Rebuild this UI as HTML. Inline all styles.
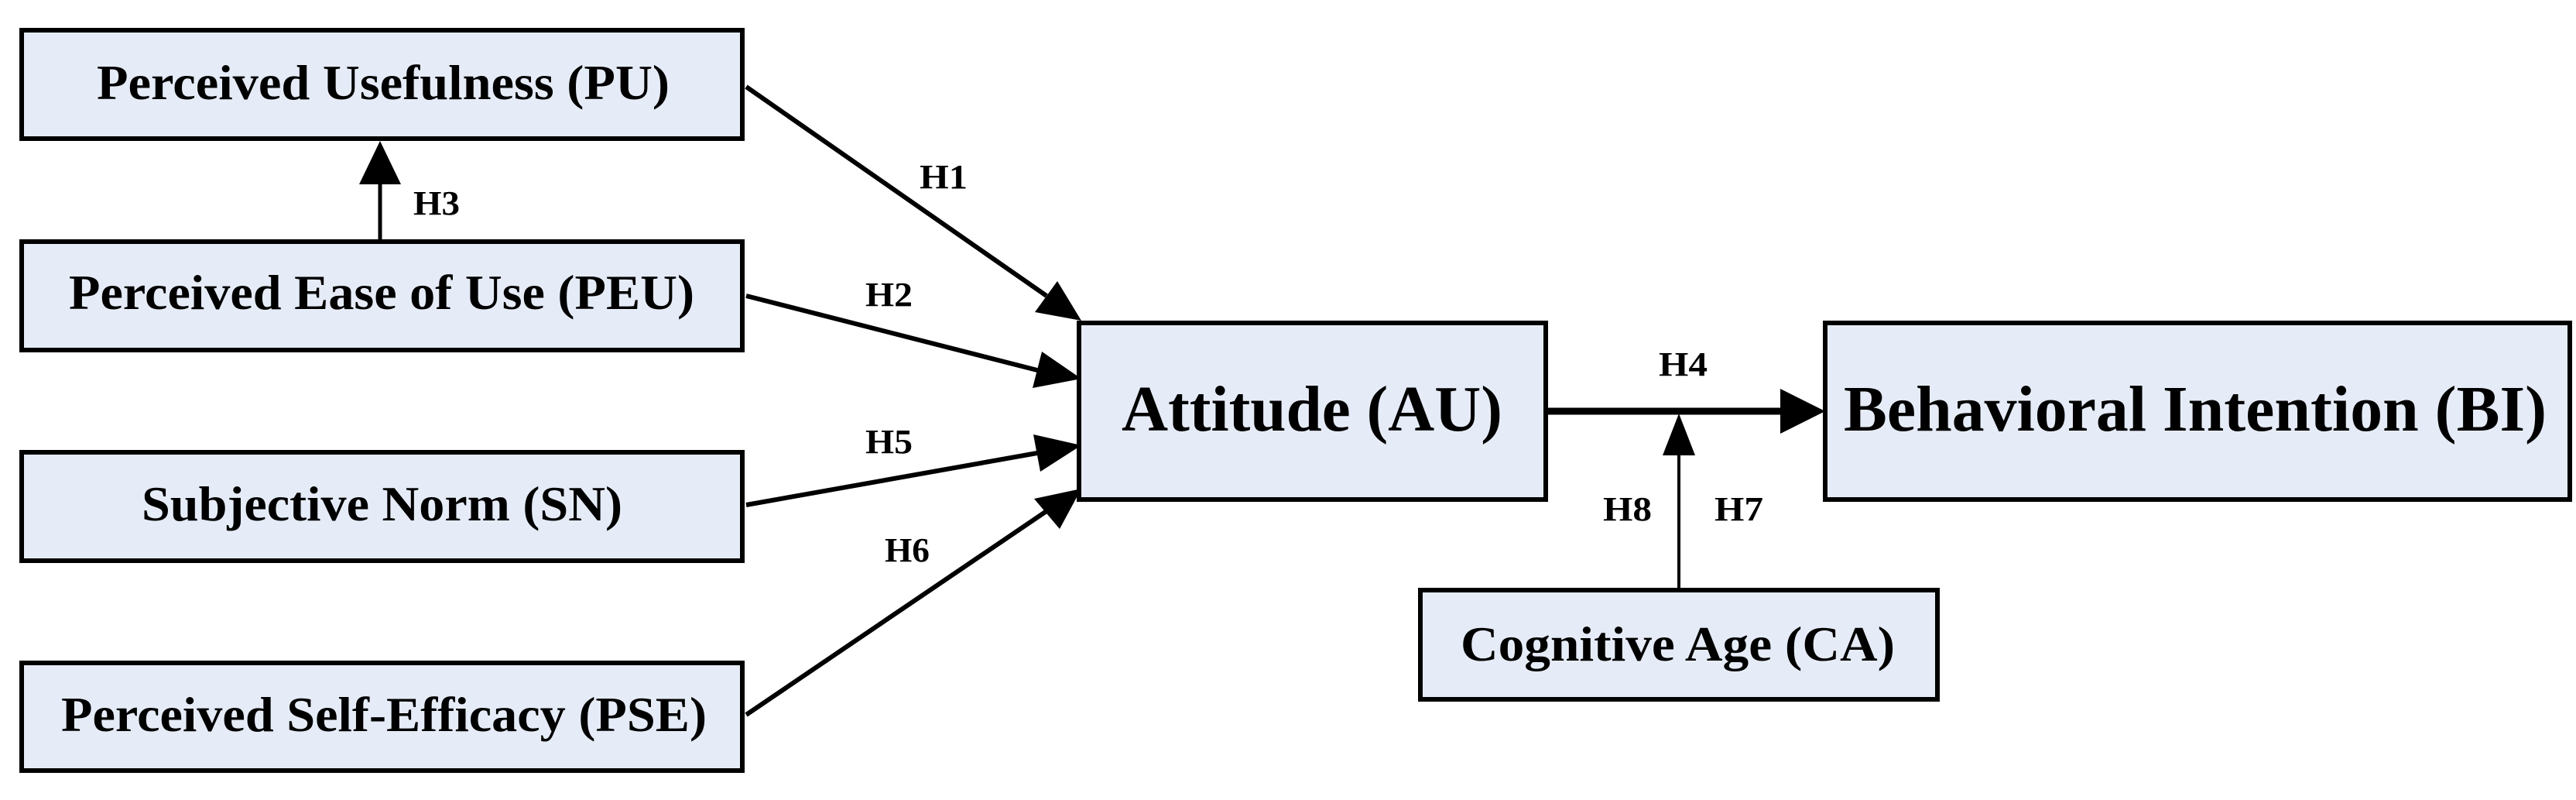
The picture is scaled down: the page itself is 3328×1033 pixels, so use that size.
<!DOCTYPE html>
<html><head><meta charset="utf-8"><style>
html,body{margin:0;padding:0;background:#fff;}
svg{display:block;}
text{font-family:"Liberation Serif",serif;font-weight:bold;fill:#000;}
</style></head><body>
<svg width="3328" height="1033" viewBox="0 0 3328 1033" xmlns="http://www.w3.org/2000/svg">
<g fill="#e6ecf7" stroke="#000" stroke-width="6">
<rect x="28" y="39" width="931" height="140"/>
<rect x="28" y="312" width="931" height="140"/>
<rect x="28" y="584" width="931" height="140"/>
<rect x="28" y="856" width="931" height="139"/>
<rect x="1394" y="417" width="603" height="228"/>
<rect x="2358" y="417" width="962" height="228"/>
<rect x="1835" y="762" width="668" height="141"/>
</g>
<g font-size="64">
<text x="125" y="128" textLength="740" lengthAdjust="spacingAndGlyphs">Perceived Usefulness (PU)</text>
<text x="89" y="399" textLength="808" lengthAdjust="spacingAndGlyphs">Perceived Ease of Use (PEU)</text>
<text x="183" y="672" textLength="621" lengthAdjust="spacingAndGlyphs">Subjective Norm (SN)</text>
<text x="79" y="944" textLength="834" lengthAdjust="spacingAndGlyphs">Perceived Self-Efficacy (PSE)</text>
<text x="1887" y="853" textLength="561" lengthAdjust="spacingAndGlyphs">Cognitive Age (CA)</text>
</g>
<g font-size="84">
<text x="1449" y="556" textLength="492" lengthAdjust="spacingAndGlyphs">Attitude (AU)</text>
<text x="2382" y="556" textLength="908" lengthAdjust="spacingAndGlyphs">Behavioral Intention (BI)</text>
</g>
<g font-size="44">
<text x="1188" y="243" textLength="62" lengthAdjust="spacingAndGlyphs">H1</text>
<text x="534" y="277" textLength="60" lengthAdjust="spacingAndGlyphs">H3</text>
<text x="1118" y="395" textLength="61" lengthAdjust="spacingAndGlyphs">H2</text>
<text x="1118" y="585" textLength="61" lengthAdjust="spacingAndGlyphs">H5</text>
<text x="1143" y="725" textLength="58" lengthAdjust="spacingAndGlyphs">H6</text>
<text x="2143" y="485" textLength="63" lengthAdjust="spacingAndGlyphs">H4</text>
<text x="2071" y="672" textLength="63" lengthAdjust="spacingAndGlyphs">H8</text>
<text x="2215" y="672" textLength="63" lengthAdjust="spacingAndGlyphs">H7</text>
</g>
<defs>
<marker id="a" markerWidth="10" markerHeight="8" refX="10" refY="4" orient="auto" markerUnits="userSpaceOnUse" viewBox="0 0 10 8">
<path d="M0,0 L10,4 L0,8 Z" fill="#000"/>
</marker>
</defs>
<g stroke="#000" fill="none">
<line x1="964" y1="112" x2="1352" y2="382" stroke-width="6"/>
<line x1="964" y1="382" x2="1340" y2="478" stroke-width="6"/>
<line x1="964" y1="652" x2="1340" y2="585" stroke-width="6"/>
<line x1="964" y1="923" x2="1352" y2="660" stroke-width="6"/>
<line x1="491" y1="311" x2="491" y2="232" stroke-width="5"/>
<line x1="1997" y1="531" x2="2300" y2="531" stroke-width="9"/>
<line x1="2169" y1="762" x2="2169" y2="585" stroke-width="4"/>
</g>
<g fill="#000">
<polygon points="1397,414 1337,403 1366,363"/>
<polygon points="1397,489 1334,501 1346,454"/>
<polygon points="1397,575 1344,609 1335,561"/>
<polygon points="1397,631 1369,683 1336,644"/>
<polygon points="491,182 464,238 518,238"/>
<polygon points="2358,531 2300,502 2300,560"/>
<polygon points="2169,534 2148,588 2190,588"/>
</g>
</svg>
</body></html>
